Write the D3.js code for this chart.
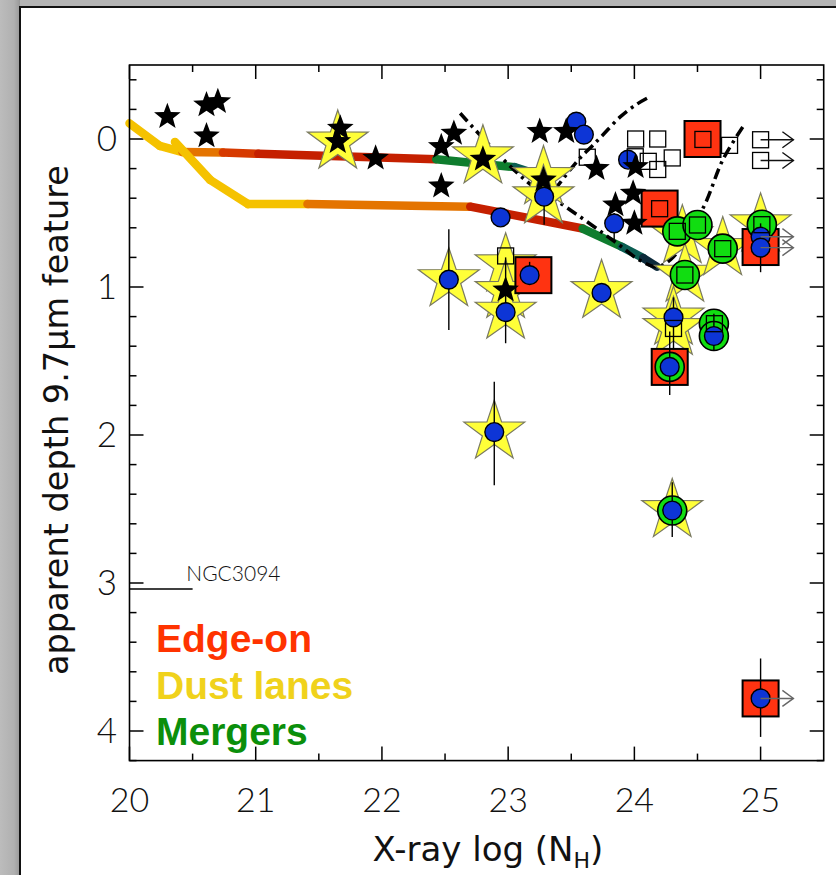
<!DOCTYPE html>
<html>
<head>
<meta charset="utf-8">
<script src="https://cdn.jsdelivr.net/npm/d3@7"></script>
<style>
  html, body { margin: 0; padding: 0; background: #b4b4b4; }
  svg { display: block; }
</style>
</head>
<body>
<svg id="chart" width="836" height="875"></svg>
<script>
// ---- Data: log NH (x) versus apparent 9.7um silicate depth (y) ----

// Axis ticks
const xMajorTicks = [20, 21, 22, 23, 24, 25];
const xMinorTicks = [20.5, 21.5, 22.5, 23.5, 24.5];
const yMajorTicks = [0, 1, 2, 3, 4];
const yMinorTicks = [-0.4, -0.2, 0.2, 0.4, 0.6, 0.8, 1.2, 1.4, 1.6, 1.8, 2.2, 2.4, 2.6, 2.8,
                     3.2, 3.4, 3.6, 3.8, 4.2];

// Model tracks (thick coloured lines)
const upperTrack = [[20.0, -0.106], [20.24, 0.047], [20.42, 0.088], [20.74, 0.092], [21.02, 0.10],
                    [22.43, 0.137], [23.05, 0.19], [23.27, 0.25]];
const lowerTrack = [[20.36, 0.02], [20.64, 0.277], [20.94, 0.44], [21.41, 0.44], [22.70, 0.457],
                    [23.59, 0.605], [23.90, 0.728], [24.07, 0.804], [24.18, 0.863]];

// Dash-dot model curves
const dashCurveA = [[22.62, -0.174], [22.94, 0.12], [23.20, 0.322], [23.41, 0.432], [23.86, 0.703],
                    [24.04, 0.818], [24.18, 0.863], [24.31, 0.795], [24.55, 0.457], [24.70, 0.142],
                    [24.86, -0.083]];
const dashCurveB = [[24.10, -0.275], [24.01, -0.23], [23.89, -0.151], [23.75, -0.027], [23.66, 0.052],
                    [23.57, 0.128], [23.49, 0.209], [23.38, 0.33]];

// Host classification
const dustLanes = [[21.65, 0.02], [22.80, 0.12], [23.28, 0.26], [23.28, 0.39], [22.53, 0.95],
                   [22.98, 0.85], [22.98, 1.03], [22.98, 1.17], [23.74, 1.03], [22.89, 1.98],
                   [24.38, 0.66], [24.40, 0.92], [24.70, 0.74], [25.00, 0.58], [24.31, 1.21],
                   [24.31, 1.28], [24.30, 2.51]];
const edgeOn = [[23.20, 0.92], [24.54, 0.00], [24.20, 0.47], [25.00, 0.73], [24.28, 1.54],
                [25.00, 3.78]];
const mergers = [[24.34, 0.624], [24.50, 0.581], [24.70, 0.741], [24.40, 0.919], [25.01, 0.579],
                 [24.63, 1.248], [24.63, 1.331], [24.28, 1.54], [24.30, 2.51]];

// Measurements
const blueCircles = [[23.54, -0.117], [23.60, -0.03], [22.94, 0.53], [23.285, 0.39], [22.53, 0.95],
                     [23.17, 0.92], [22.98, 1.17], [23.74, 1.04], [23.95, 0.14], [23.84, 0.57],
                     [22.89, 1.98], [25.00, 0.66], [25.00, 0.734], [24.31, 1.205], [24.63, 1.331],
                     [24.28, 1.54], [24.30, 2.51], [25.00, 3.78]];
const openSquares = [[24.01, 0.00], [24.185, 0.00], [23.627, 0.123], [24.007, 0.12], [24.11, 0.151],
                     [24.185, 0.206], [24.30, 0.128], [24.754, 0.043], [25.00, 0.005], [25.00, 0.145],
                     [24.543, 0.003], [24.20, 0.471], [24.34, 0.624], [24.50, 0.581], [24.70, 0.741],
                     [24.40, 0.919], [25.01, 0.579], [24.31, 1.28], [24.634, 1.248], [22.98, 0.79]];
const blackStars = [[20.30, -0.151], [20.61, -0.23], [20.70, -0.252], [20.61, -0.02], [21.67, -0.072],
                    [21.65, 0.018], [21.95, 0.13], [22.57, -0.038], [22.47, 0.052], [22.47, 0.318],
                    [22.80, 0.137], [23.25, -0.05], [23.46, -0.05], [23.28, 0.277], [22.98, 1.02],
                    [23.70, 0.20], [24.01, 0.187], [23.99, 0.367], [23.85, 0.446], [24.0, 0.57]];

// Vertical error bars: [x, y from, y to]
const errorBars = [[22.53, 0.61, 1.29], [22.98, 0.80, 1.38], [23.285, 0.30, 0.58], [23.84, 0.50, 0.68],
                   [23.17, 0.83, 0.92], [22.89, 1.64, 2.34], [24.31, 1.07, 1.42], [24.28, 1.30, 1.73],
                   [24.63, 1.18, 1.43], [24.30, 2.32, 2.69], [25.00, 0.57, 0.90], [25.00, 3.51, 4.04]];

// Lower limits on NH (arrows to the right): [x, y]
const limitSquares = [[25.00, 0.005], [25.00, 0.145]];
const limitCircles = [[25.00, 0.66], [25.00, 0.734], [25.00, 3.78]];
const limitEnd = 25.26;

// Labelled reference source
const refSource = { name: "NGC3094", x0: 20.0, x1: 20.5, y: 3.04 };

// Legend
const legendItems = ["Edge-on", "Dust lanes", "Mergers"];

// ---- Drawing ----
const svg = d3.select("#chart");
const W = 836, H = 875;

// page frame
const defs = svg.append("defs");
const shade = defs.append("linearGradient").attr("id", "shade").attr("x1", 0).attr("x2", 1).attr("y1", 0).attr("y2", 0);
shade.append("stop").attr("offset", "0%").attr("stop-color", "#bcbcbc");
shade.append("stop").attr("offset", "70%").attr("stop-color", "#b0b0b0");
shade.append("stop").attr("offset", "100%").attr("stop-color", "#989898");
svg.append("rect").attr("x", 0).attr("y", 0).attr("width", W).attr("height", H).attr("fill", "#b4b4b4");
svg.append("rect").attr("x", 0).attr("y", 0).attr("width", 20).attr("height", H).attr("fill", "url(#shade)");
svg.append("rect").attr("x", 20).attr("y", 7).attr("width", W - 20).attr("height", H - 7).attr("fill", "#fff");
svg.append("path").attr("d", `M20,${H} V7 H${W}`).attr("fill", "none").attr("stroke", "#111").attr("stroke-width", 2);

const x = d3.scaleLinear().domain([20, 25.5]).range([129.5, 823.7]);
const y = d3.scaleLinear().domain([-0.5, 4.2]).range([65, 760.6]);
const [xL, xR] = x.range(), [yT, yB] = y.range();

const g = svg.append("g");

// ticks (inward on all four sides)
const tickG = g.append("g").attr("stroke", "#000").attr("stroke-width", 1.5);
const addXTicks = (vals, len) => {
  tickG.selectAll(null).data(vals).join("line")
    .attr("x1", d => x(d)).attr("x2", d => x(d)).attr("y1", yB).attr("y2", yB - len);
  tickG.selectAll(null).data(vals).join("line")
    .attr("x1", d => x(d)).attr("x2", d => x(d)).attr("y1", yT).attr("y2", yT + len);
};
const addYTicks = (vals, len) => {
  tickG.selectAll(null).data(vals).join("line")
    .attr("y1", d => y(d)).attr("y2", d => y(d)).attr("x1", xL).attr("x2", xL + len);
  tickG.selectAll(null).data(vals).join("line")
    .attr("y1", d => y(d)).attr("y2", d => y(d)).attr("x1", xR).attr("x2", xR - len);
};
addXTicks(xMajorTicks, 14); addXTicks(xMinorTicks, 7);
addYTicks(yMajorTicks, 14); addYTicks(yMinorTicks, 7);

// tick labels
const tickFont = "Lato, 'DejaVu Sans', sans-serif";
g.append("g").selectAll("text").data(xMajorTicks).join("text")
  .attr("x", d => x(d)).attr("y", 812).attr("text-anchor", "middle")
  .attr("font-family", tickFont).attr("font-weight", 300).attr("font-size", 34).attr("fill", "#111")
  .text(d => d);
g.append("g").selectAll("text").data(yMajorTicks).join("text")
  .attr("x", 117).attr("y", d => y(d) + 12).attr("text-anchor", "end")
  .attr("font-family", tickFont).attr("font-weight", 300).attr("font-size", 35).attr("fill", "#111")
  .text(d => d);

// axis titles
const xt = g.append("text").attr("x", 488).attr("y", 861).attr("text-anchor", "middle")
  .attr("font-family", "'DejaVu Sans', sans-serif").attr("font-size", 34).attr("fill", "#111");
xt.append("tspan").text("X-ray log (N");
xt.append("tspan").attr("font-size", 22).attr("dy", 7).text("H");
xt.append("tspan").attr("dy", -7).text(")");

g.append("text").attr("transform", "translate(68,420) rotate(-90)").attr("text-anchor", "middle")
  .attr("font-family", "'DejaVu Sans', sans-serif").attr("font-size", 33.5).attr("fill", "#111")
  .attr("textLength", 510).attr("lengthAdjust", "spacingAndGlyphs")
  .text("apparent depth 9.7\u03bcm feature");

// reference source marker
g.append("line").attr("x1", x(refSource.x0)).attr("x2", x(refSource.x1))
  .attr("y1", y(refSource.y)).attr("y2", y(refSource.y)).attr("stroke", "#000").attr("stroke-width", 1.5);
g.append("text").attr("x", x(20.45)).attr("y", y(2.985)).attr("font-family", tickFont).attr("font-weight", 300)
  .attr("font-size", 21).attr("fill", "#111").text(refSource.name);

// coloured model tracks, drawn segment by segment
const gold = "#f5c200", orange = "#e47400", red1 = "#d63a00", red2 = "#c52000",
      green = "#0f7d2e", teal = "#0b5e52", navy = "#0c2a3a";
const upperColors = [gold, gold, orange, red1, red2, green, teal];
const lowerColors = [gold, gold, gold, orange, red2, green, teal, navy];
const drawTrack = (pts, colors) => {
  g.append("g").selectAll("line").data(d3.pairs(pts)).join("line")
    .attr("x1", d => x(d[0][0])).attr("y1", d => y(d[0][1]))
    .attr("x2", d => x(d[1][0])).attr("y2", d => y(d[1][1]))
    .attr("stroke", (d, i) => colors[i]).attr("stroke-width", 8.5).attr("stroke-linecap", "round");
};
drawTrack(upperTrack, upperColors);
drawTrack(lowerTrack, lowerColors);

// dash-dot model curves
const line = d3.line().x(d => x(d[0])).y(d => y(d[1])).curve(d3.curveCatmullRom);
[dashCurveA, dashCurveB].forEach(c => {
  g.append("path").attr("d", line(c)).attr("fill", "none").attr("stroke", "#000")
    .attr("stroke-width", 3.5).attr("stroke-dasharray", "11,5,3,5");
});

// symbol shapes
const starPath = (R, k = 0.39) => {
  const p = [];
  for (let i = 0; i < 10; i++) {
    const a = -Math.PI / 2 + i * Math.PI / 5, r = i % 2 ? R * k : R;
    p.push([r * Math.cos(a), r * Math.sin(a)]);
  }
  return "M" + p.map(q => q.join(",")).join("L") + "Z";
};
const at = d => `translate(${x(d[0])},${y(d[1])})`;

g.append("g").selectAll("path").data(dustLanes).join("path")
  .attr("d", starPath(32)).attr("transform", at)
  .attr("fill", "#ffff38").attr("stroke", "#7a7a60").attr("stroke-width", 1.2);

g.append("g").selectAll("rect").data(edgeOn).join("rect")
  .attr("x", d => x(d[0]) - 18).attr("y", d => y(d[1]) - 18).attr("width", 36).attr("height", 36)
  .attr("fill", "#ff3311").attr("stroke", "#000").attr("stroke-width", 2);

g.append("g").selectAll("circle").data(mergers).join("circle")
  .attr("cx", d => x(d[0])).attr("cy", d => y(d[1])).attr("r", 14.5)
  .attr("fill", "#11dd11").attr("stroke", "#000").attr("stroke-width", 1.6);

g.append("g").attr("stroke", "#000").attr("stroke-width", 1.4)
  .selectAll("line").data(errorBars).join("line")
  .attr("x1", d => x(d[0])).attr("x2", d => x(d[0])).attr("y1", d => y(d[1])).attr("y2", d => y(d[2]));

g.append("g").selectAll("circle").data(blueCircles).join("circle")
  .attr("cx", d => x(d[0])).attr("cy", d => y(d[1])).attr("r", 9.4)
  .attr("fill", "#0d35d6").attr("stroke", "#000").attr("stroke-width", 1.4);

g.append("g").selectAll("rect").data(openSquares).join("rect")
  .attr("x", d => x(d[0]) - 8).attr("y", d => y(d[1]) - 8).attr("width", 16).attr("height", 16)
  .attr("fill", "none").attr("stroke", "#000").attr("stroke-width", 1.3);

g.append("g").selectAll("path").data(blackStars).join("path")
  .attr("d", starPath(14, 0.42)).attr("transform", at).attr("fill", "#000");

// lower-limit arrows
const drawArrows = (pts, col) => {
  const ag = g.append("g").attr("fill", "none").attr("stroke", col).attr("stroke-width", 1.4);
  ag.selectAll("line").data(pts).join("line")
    .attr("x1", d => x(d[0])).attr("x2", x(limitEnd)).attr("y1", d => y(d[1])).attr("y2", d => y(d[1]));
  ag.selectAll("path").data(pts).join("path")
    .attr("d", d => `M${x(limitEnd) - 11},${y(d[1]) - 8}L${x(limitEnd)},${y(d[1])}L${x(limitEnd) - 11},${y(d[1]) + 8}`);
};
drawArrows(limitSquares, "#111");
drawArrows(limitCircles, "#666");

// frame
g.append("rect").attr("x", xL).attr("y", yT).attr("width", xR - xL).attr("height", yB - yT)
  .attr("fill", "none").attr("stroke", "#000").attr("stroke-width", 1.6);

// legend
const legendColors = ["#ff3300", "#f0d21c", "#0b8f0b"];
g.append("g").selectAll("text").data(legendItems).join("text")
  .attr("x", 156).attr("y", (d, i) => 652 + i * 46.5)
  .attr("font-family", "'Liberation Sans', Arial, sans-serif").attr("font-weight", "bold")
  .attr("font-size", 39).attr("fill", (d, i) => legendColors[i]).text(d => d);
</script>
</body>
</html>
